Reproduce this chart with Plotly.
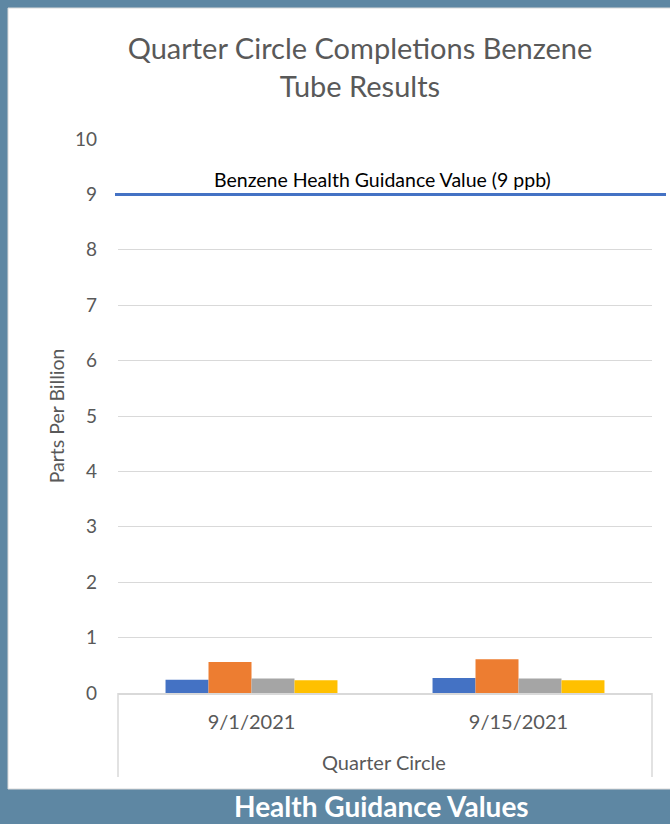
import plotly.graph_objects as go

# ---- data ----
dates = ["9/1/2021", "9/15/2021"]
group_label = "Quarter Circle"
series_names = ["Tube 1", "Tube 2", "Tube 3", "Tube 4"]
series_values = [
    [0.24, 0.27],
    [0.56, 0.61],
    [0.26, 0.26],
    [0.23, 0.23],
]
series_colors = ["#4472C4", "#ED7D31", "#A5A5A5", "#FFC000"]
guidance_value = 9
guidance_label = "Benzene Health Guidance Value (9 ppb)"
y_ticks = list(range(0, 11))

# ---- layout geometry (pixels) ----
W, H = 670, 824
L, R = 118, 652        # plot area x
T, B = 139, 693        # plot area y
pw, ph = R - L, B - T

def px(x):
    return (x - L) / pw

def py(y):
    return (B - y) / ph

fig = go.Figure()
for name, vals, col in zip(series_names, series_values, series_colors):
    fig.add_trace(go.Bar(x=dates, y=vals, name=name, marker_color=col,
                         marker_line_width=0))

FONT = "Lato, Open Sans, sans-serif"
GRAY = "#595959"
LINE = "#D9D9D9"

shapes = [
    # white panel
    dict(type="rect", xref="paper", yref="paper", x0=px(8), x1=px(675),
         y0=py(789), y1=py(8), fillcolor="white",
         line=dict(color="#D9D9D9", width=1), layer="below"),
    # dividers of the category axis
    dict(type="line", xref="paper", yref="paper", x0=0, x1=0, y0=0, y1=py(777),
         line=dict(color=LINE, width=1.5)),
    dict(type="line", xref="paper", yref="paper", x0=1, x1=1, y0=0, y1=py(777),
         line=dict(color=LINE, width=1.5)),
    # guidance line
    dict(type="line", xref="paper", yref="y", x0=px(115), x1=px(666),
         y0=guidance_value, y1=guidance_value,
         line=dict(color="#4472C4", width=3)),
]

annotations = [
    dict(text=guidance_label, xref="paper", yref="y", x=px(382), y=guidance_value,
         xanchor="center", yanchor="bottom", yshift=1, showarrow=False,
         font=dict(family=FONT, size=19.5, color="black")),
    dict(text=group_label, xref="paper", yref="paper", x=px(384), y=py(762),
         xanchor="center", yanchor="middle", showarrow=False,
         font=dict(family=FONT, size=20, color=GRAY)),
    dict(text="<b>Health Guidance Values</b>", xref="paper", yref="paper",
         x=px(381), y=py(806), xanchor="center", yanchor="middle",
         showarrow=False, font=dict(family=FONT, size=28, color="white")),
]

fig.update_layout(
    width=W, height=H,
    margin=dict(l=L, r=W - R, t=T, b=H - B, pad=0),
    paper_bgcolor="#5E87A3",
    plot_bgcolor="white",
    showlegend=False,
    barmode="group",
    bargap=0.356,
    bargroupgap=0,
    title=dict(text="Quarter Circle Completions Benzene<br>Tube Results",
               x=360 / W, xanchor="center", y=1 - 59 / H, yanchor="middle",
               font=dict(family=FONT, size=29, color=GRAY)),
    font=dict(family=FONT, color=GRAY),
    shapes=shapes,
    annotations=annotations,
)

fig.update_yaxes(range=[0, 10], tickvals=y_ticks, showgrid=True, gridcolor=LINE,
                 gridwidth=1.2, zeroline=False, showline=False,
                 ticks="", ticklabelstandoff=20,
                 tickfont=dict(family=FONT, size=19, color=GRAY),
                 title=dict(text="Parts Per Billion", standoff=5,
                            font=dict(family=FONT, size=19.5, color=GRAY)))
fig.update_xaxes(showline=True, linecolor=LINE, linewidth=1.5, ticks="",
                 ticklabelstandoff=10,
                 tickfont=dict(family=FONT, size=20, color=GRAY))

fig.write_html("out.html", config={"displayModeBar": False},
               post_script="document.body.style.margin='0px';")
